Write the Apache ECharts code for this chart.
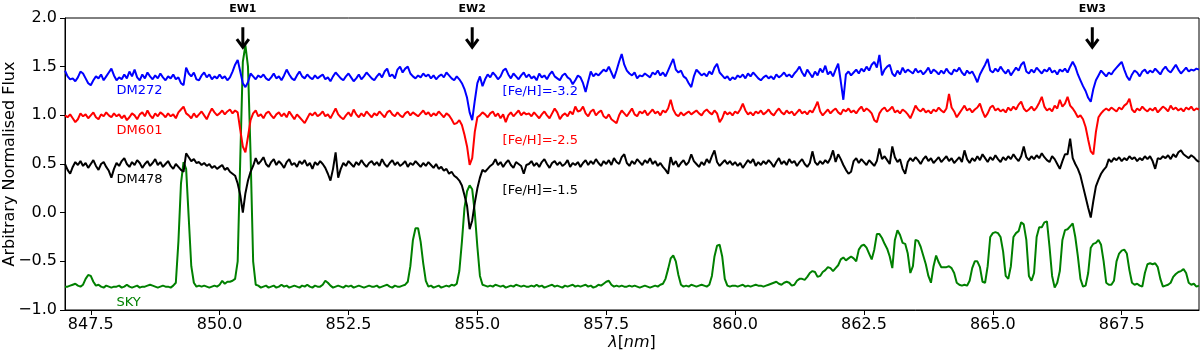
<!DOCTYPE html>
<html>
<head>
<meta charset="utf-8">
<script src="https://cdn.jsdelivr.net/npm/echarts@6/dist/echarts.min.js"></script>
<style>
html,body{margin:0;padding:0;background:#fff;}
#c{width:1200px;height:352px;}
</style>
</head>
<body>
<div id="c"></div>
<script>
// Wavelength sampling grid (nm)
const lambdaStart = 847.00;
const lambdaStep = 0.05;

// X tick labels
const xTicks = [847.5, 850.0, 852.5, 855.0, 857.5, 860.0, 862.5, 865.0, 867.5];

// DM272 (blue)
const dm272 = [
1.46,1.40,1.37,1.38,1.35,1.39,1.45,1.43,1.38,1.33,1.31,1.36,1.40,1.38,1.42,1.36,1.40,1.44,1.48,1.41,
1.36,1.39,1.37,1.42,1.38,1.45,1.40,1.47,1.39,1.36,1.42,1.38,1.44,1.40,1.37,1.41,1.38,1.43,1.39,1.36,
1.40,1.38,1.42,1.37,1.39,1.33,1.31,1.49,1.43,1.40,1.44,1.37,1.36,1.41,1.44,1.39,1.42,1.37,1.40,1.38,
1.42,1.38,1.40,1.36,1.39,1.45,1.52,1.57,1.45,1.33,1.29,1.34,1.43,1.40,1.37,1.41,1.39,1.42,1.38,1.36,
1.39,1.43,1.38,1.40,1.36,1.41,1.47,1.42,1.38,1.36,1.41,1.45,1.40,1.38,1.42,1.39,1.37,1.41,1.38,1.40,
1.42,1.37,1.39,1.35,1.40,1.44,1.41,1.38,1.36,1.40,1.43,1.39,1.35,1.38,1.42,1.37,1.40,1.44,1.41,1.38,
1.36,1.40,1.43,1.39,1.45,1.48,1.40,1.42,1.38,1.47,1.50,1.44,1.48,1.50,1.43,1.40,1.38,1.41,1.39,1.43,
1.40,1.42,1.38,1.41,1.37,1.40,1.42,1.39,1.44,1.41,1.38,1.36,1.40,1.37,1.33,1.27,1.18,1.03,0.95,1.15,
1.33,1.40,1.30,1.37,1.42,1.39,1.44,1.41,1.37,1.40,1.46,1.48,1.42,1.38,1.43,1.40,1.37,1.41,1.44,1.39,
1.42,1.38,1.40,1.36,1.43,1.39,1.41,1.37,1.42,1.45,1.40,1.38,1.36,1.41,1.43,1.39,1.37,1.32,1.36,1.41,
1.39,1.33,1.24,1.35,1.45,1.40,1.43,1.41,1.44,1.47,1.45,1.50,1.44,1.38,1.46,1.55,1.63,1.52,1.46,1.43,
1.41,1.44,1.38,1.41,1.40,1.43,1.41,1.39,1.44,1.42,1.46,1.41,1.44,1.40,1.46,1.52,1.58,1.47,1.44,1.46,
1.40,1.38,1.33,1.29,1.40,1.47,1.44,1.41,1.43,1.40,1.45,1.42,1.49,1.53,1.44,1.41,1.38,1.40,1.36,1.39,
1.37,1.41,1.39,1.42,1.38,1.43,1.40,1.44,1.41,1.38,1.36,1.39,1.41,1.38,1.40,1.37,1.42,1.39,1.41,1.44,
1.40,1.42,1.39,1.43,1.46,1.50,1.44,1.40,1.47,1.43,1.39,1.45,1.41,1.48,1.44,1.51,1.42,1.45,1.40,1.47,
1.53,1.35,1.16,1.42,1.45,1.41,1.44,1.47,1.43,1.48,1.45,1.50,1.46,1.52,1.55,1.49,1.62,1.41,1.47,1.50,
1.52,1.43,1.40,1.46,1.42,1.49,1.44,1.47,1.45,1.43,1.48,1.44,1.46,1.42,1.45,1.49,1.43,1.47,1.45,1.42,
1.46,1.43,1.48,1.44,1.42,1.47,1.45,1.49,1.44,1.41,1.46,1.43,1.45,1.40,1.34,1.42,1.47,1.52,1.58,1.46,
1.44,1.48,1.45,1.50,1.46,1.43,1.47,1.41,1.45,1.49,1.46,1.52,1.55,1.45,1.43,1.47,1.44,1.49,1.46,1.43,
1.47,1.45,1.49,1.44,1.46,1.42,1.47,1.45,1.48,1.44,1.50,1.55,1.50,1.42,1.36,1.30,1.25,1.18,1.14,1.27,
1.36,1.41,1.46,1.43,1.40,1.44,1.42,1.46,1.49,1.52,1.55,1.47,1.40,1.36,1.42,1.46,1.44,1.40,1.45,1.47,
1.43,1.46,1.44,1.48,1.45,1.42,1.47,1.50,1.46,1.44,1.48,1.52,1.47,1.43,1.46,1.49,1.45,1.47,1.46,1.48,
1.47];

// DM601 (red)
const dm601 = [
1.00,0.98,1.01,0.97,0.93,0.96,1.02,0.99,1.01,0.97,1.00,1.03,0.98,0.96,1.01,0.99,1.03,1.00,0.98,1.02,
0.99,1.01,0.97,1.00,0.95,0.98,1.02,1.00,0.96,1.01,1.03,0.99,1.05,1.00,0.97,1.02,0.99,1.03,1.01,0.98,
1.02,0.99,1.01,0.97,1.03,1.06,1.09,1.02,1.00,0.97,1.02,0.98,1.01,1.04,1.00,0.96,1.02,1.07,1.03,1.00,
1.02,1.05,1.01,1.04,1.06,1.02,1.05,1.03,0.85,0.68,0.62,0.78,0.95,1.02,1.05,0.99,1.01,0.97,1.02,1.04,
1.00,0.97,1.01,1.03,0.99,1.02,0.98,1.04,1.00,0.96,1.01,0.98,0.95,0.92,0.97,1.02,1.00,1.03,0.99,1.01,
1.04,0.99,1.01,0.97,1.02,1.07,1.01,0.98,0.96,1.00,1.03,0.99,1.06,1.01,0.98,1.02,0.99,1.04,1.01,0.98,
1.02,1.00,1.04,1.01,0.98,1.03,1.05,1.01,0.99,1.03,1.00,0.98,1.02,1.04,1.00,1.03,1.01,0.99,1.02,1.05,
1.01,1.03,0.99,1.02,1.00,1.04,1.01,0.98,1.02,1.00,0.96,0.91,0.92,0.95,0.90,0.80,0.68,0.49,0.56,0.83,
0.98,1.00,1.03,1.01,0.98,1.02,1.04,0.99,1.02,0.97,1.01,0.93,1.00,1.03,0.99,1.02,1.05,1.00,1.03,1.01,
1.02,0.99,1.03,1.00,0.97,1.01,1.04,1.00,0.97,1.02,1.07,1.03,0.96,1.00,1.02,0.99,1.04,1.01,1.09,1.04,
1.05,1.09,1.02,0.99,1.04,1.06,1.00,1.03,1.05,0.99,0.97,1.01,0.96,0.94,0.92,1.00,1.05,1.02,0.99,1.03,
1.07,1.01,0.99,1.04,1.02,1.05,1.00,1.03,1.06,1.02,1.04,1.00,1.05,1.03,1.07,1.16,1.06,1.01,0.99,1.03,
1.00,1.02,1.04,1.01,1.03,1.05,1.02,1.00,1.04,1.06,1.03,1.01,1.05,1.02,0.93,0.97,1.04,1.01,1.03,1.00,
1.04,1.02,1.06,1.12,1.05,1.01,1.03,1.00,1.04,1.02,1.05,1.01,1.03,1.06,1.02,1.00,1.04,1.07,1.03,1.01,
1.05,1.02,1.04,1.00,1.03,1.06,1.02,1.04,1.01,1.05,1.03,1.08,1.14,1.04,1.00,1.03,1.06,1.02,1.05,1.07,
1.03,1.01,1.06,1.04,1.07,1.03,1.05,1.02,1.06,1.09,1.04,1.07,1.05,1.02,0.95,0.93,1.02,1.06,1.08,1.04,
1.06,1.09,1.03,1.05,1.02,1.06,1.04,1.01,0.97,1.03,1.10,1.06,1.04,1.07,1.03,1.05,1.02,1.06,1.04,1.08,
1.05,1.03,1.07,1.22,1.08,1.04,0.98,1.02,1.06,1.10,1.05,1.07,1.03,1.06,1.08,1.12,1.04,0.98,1.02,1.08,
1.10,1.05,1.07,1.04,1.06,1.03,1.08,1.05,1.09,1.06,1.11,1.14,1.07,1.04,1.06,1.09,1.05,1.08,1.13,1.19,
1.09,1.05,1.07,1.04,1.10,1.07,1.16,1.09,1.12,1.19,1.10,1.07,1.03,0.98,1.00,0.96,0.88,0.75,0.63,0.60,
0.83,0.98,1.02,1.05,1.07,1.05,1.08,1.06,1.04,1.08,1.06,1.10,1.12,1.17,1.06,1.03,1.07,1.05,1.09,1.06,
1.04,1.07,1.05,1.08,1.03,1.06,1.09,1.07,1.04,1.10,1.06,1.08,1.05,1.07,1.04,1.08,1.06,1.09,1.05,1.07,
1.06];

// DM478 (black)
const dm478 = [
0.50,0.44,0.40,0.47,0.52,0.49,0.53,0.48,0.51,0.46,0.50,0.54,0.48,0.44,0.50,0.52,0.47,0.43,0.36,0.45,
0.51,0.48,0.53,0.56,0.50,0.47,0.52,0.49,0.54,0.51,0.46,0.50,0.53,0.48,0.51,0.55,0.49,0.52,0.47,0.50,
0.53,0.48,0.45,0.50,0.47,0.44,0.42,0.61,0.57,0.53,0.55,0.51,0.52,0.49,0.51,0.48,0.50,0.46,0.48,0.45,
0.47,0.49,0.44,0.46,0.42,0.40,0.38,0.30,0.18,0.00,0.20,0.33,0.42,0.48,0.56,0.50,0.53,0.57,0.50,0.47,
0.52,0.55,0.49,0.53,0.50,0.46,0.52,0.55,0.49,0.51,0.47,0.53,0.50,0.54,0.48,0.51,0.45,0.52,0.49,0.53,
0.50,0.46,0.40,0.33,0.45,0.62,0.36,0.45,0.51,0.48,0.53,0.50,0.47,0.52,0.49,0.54,0.50,0.47,0.51,0.53,
0.49,0.52,0.48,0.55,0.50,0.47,0.51,0.54,0.49,0.52,0.48,0.50,0.53,0.47,0.51,0.49,0.53,0.50,0.47,0.51,
0.48,0.52,0.49,0.46,0.50,0.45,0.47,0.43,0.45,0.40,0.42,0.38,0.36,0.33,0.28,0.18,0.07,-0.17,-0.08,0.10,
0.25,0.36,0.44,0.42,0.45,0.48,0.50,0.55,0.49,0.52,0.47,0.51,0.54,0.49,0.46,0.52,0.50,0.48,0.40,0.49,
0.50,0.53,0.48,0.51,0.47,0.52,0.55,0.50,0.46,0.51,0.53,0.49,0.52,0.48,0.50,0.54,0.47,0.51,0.49,0.52,
0.47,0.51,0.54,0.49,0.53,0.50,0.55,0.51,0.48,0.53,0.50,0.54,0.49,0.56,0.52,0.50,0.57,0.60,0.51,0.48,
0.53,0.50,0.55,0.52,0.49,0.54,0.51,0.56,0.50,0.53,0.48,0.51,0.47,0.44,0.40,0.57,0.49,0.53,0.47,0.51,
0.54,0.49,0.52,0.60,0.53,0.50,0.47,0.52,0.49,0.55,0.51,0.58,0.64,0.52,0.48,0.51,0.54,0.50,0.53,0.49,
0.52,0.48,0.51,0.46,0.50,0.54,0.51,0.55,0.48,0.52,0.49,0.53,0.50,0.54,0.51,0.47,0.52,0.56,0.50,0.53,
0.49,0.55,0.51,0.53,0.48,0.52,0.55,0.50,0.47,0.51,0.63,0.52,0.49,0.53,0.50,0.54,0.51,0.56,0.64,0.52,
0.60,0.55,0.49,0.44,0.40,0.42,0.53,0.56,0.51,0.55,0.52,0.49,0.54,0.51,0.48,0.53,0.66,0.55,0.58,0.54,
0.50,0.68,0.57,0.52,0.55,0.45,0.40,0.52,0.56,0.53,0.57,0.54,0.50,0.55,0.58,0.53,0.56,0.51,0.54,0.57,
0.52,0.55,0.58,0.53,0.56,0.51,0.54,0.57,0.52,0.64,0.55,0.51,0.56,0.53,0.58,0.54,0.60,0.56,0.52,0.57,
0.54,0.59,0.55,0.52,0.57,0.54,0.58,0.55,0.60,0.56,0.53,0.58,0.68,0.57,0.54,0.58,0.55,0.59,0.56,0.61,
0.57,0.54,0.52,0.58,0.55,0.50,0.45,0.53,0.60,0.60,0.76,0.56,0.50,0.45,0.38,0.27,0.16,0.05,-0.05,0.12,
0.27,0.34,0.40,0.44,0.47,0.55,0.52,0.56,0.54,0.57,0.53,0.56,0.54,0.58,0.55,0.57,0.53,0.56,0.54,0.58,
0.55,0.58,0.53,0.45,0.56,0.55,0.58,0.56,0.59,0.55,0.60,0.57,0.62,0.64,0.60,0.58,0.56,0.59,0.57,0.54,
0.52];

// SKY (green)
const sky = [
-0.76,-0.76,-0.75,-0.74,-0.73,-0.75,-0.76,-0.74,-0.68,-0.64,-0.65,-0.71,-0.75,-0.74,-0.76,-0.77,-0.75,-0.76,-0.77,-0.76,
-0.76,-0.75,-0.77,-0.76,-0.74,-0.76,-0.77,-0.76,-0.75,-0.77,-0.76,-0.76,-0.75,-0.74,-0.75,-0.76,-0.77,-0.76,-0.75,-0.76,
-0.76,-0.77,-0.75,-0.72,-0.30,0.30,0.52,0.45,-0.05,-0.55,-0.72,-0.76,-0.75,-0.76,-0.75,-0.76,-0.77,-0.76,-0.75,-0.76,
-0.74,-0.70,-0.73,-0.71,-0.71,-0.70,-0.68,-0.50,0.55,1.55,1.72,1.50,0.60,-0.50,-0.74,-0.75,-0.77,-0.76,-0.75,-0.77,
-0.76,-0.75,-0.77,-0.76,-0.74,-0.76,-0.75,-0.77,-0.76,-0.75,-0.76,-0.77,-0.75,-0.76,-0.74,-0.76,-0.77,-0.75,-0.76,-0.76,
-0.74,-0.70,-0.72,-0.75,-0.77,-0.76,-0.75,-0.76,-0.77,-0.75,-0.76,-0.75,-0.77,-0.76,-0.75,-0.76,-0.77,-0.76,-0.75,-0.76,
-0.76,-0.75,-0.77,-0.76,-0.75,-0.74,-0.76,-0.77,-0.75,-0.76,-0.76,-0.75,-0.74,-0.71,-0.55,-0.28,-0.16,-0.16,-0.30,-0.52,
-0.70,-0.76,-0.75,-0.77,-0.76,-0.75,-0.77,-0.76,-0.75,-0.76,-0.74,-0.75,-0.73,-0.60,-0.30,0.05,0.22,0.28,0.24,0.00,
-0.35,-0.65,-0.74,-0.75,-0.76,-0.75,-0.76,-0.74,-0.75,-0.76,-0.75,-0.77,-0.76,-0.75,-0.76,-0.74,-0.75,-0.76,-0.75,-0.76,
-0.76,-0.75,-0.76,-0.74,-0.76,-0.75,-0.77,-0.76,-0.75,-0.74,-0.76,-0.75,-0.76,-0.77,-0.75,-0.76,-0.75,-0.74,-0.76,-0.75,
-0.76,-0.75,-0.74,-0.76,-0.75,-0.77,-0.76,-0.74,-0.75,-0.73,-0.71,-0.70,-0.74,-0.76,-0.75,-0.76,-0.75,-0.76,-0.76,-0.75,
-0.76,-0.75,-0.76,-0.77,-0.76,-0.75,-0.76,-0.77,-0.76,-0.75,-0.76,-0.74,-0.73,-0.68,-0.58,-0.47,-0.44,-0.50,-0.64,-0.74,
-0.76,-0.75,-0.76,-0.74,-0.75,-0.76,-0.75,-0.74,-0.75,-0.76,-0.74,-0.65,-0.45,-0.34,-0.33,-0.45,-0.68,-0.75,-0.76,-0.75,
-0.75,-0.76,-0.75,-0.74,-0.76,-0.75,-0.76,-0.75,-0.74,-0.75,-0.75,-0.76,-0.75,-0.74,-0.73,-0.72,-0.71,-0.73,-0.74,-0.72,
-0.71,-0.72,-0.75,-0.74,-0.70,-0.68,-0.68,-0.69,-0.66,-0.62,-0.60,-0.61,-0.66,-0.65,-0.61,-0.59,-0.56,-0.57,-0.60,-0.57,
-0.54,-0.48,-0.46,-0.49,-0.47,-0.45,-0.47,-0.50,-0.38,-0.34,-0.33,-0.36,-0.42,-0.48,-0.38,-0.22,-0.22,-0.26,-0.32,-0.37,
-0.45,-0.57,-0.28,-0.18,-0.23,-0.31,-0.32,-0.42,-0.62,-0.55,-0.28,-0.29,-0.35,-0.44,-0.53,-0.65,-0.72,-0.55,-0.44,-0.51,
-0.56,-0.56,-0.56,-0.55,-0.57,-0.62,-0.72,-0.74,-0.75,-0.74,-0.75,-0.70,-0.57,-0.50,-0.50,-0.56,-0.71,-0.72,-0.55,-0.25,
-0.21,-0.20,-0.21,-0.25,-0.40,-0.65,-0.68,-0.55,-0.25,-0.21,-0.19,-0.10,-0.12,-0.28,-0.65,-0.70,-0.62,-0.25,-0.15,-0.15,
-0.10,-0.09,-0.35,-0.65,-0.77,-0.72,-0.60,-0.28,-0.18,-0.17,-0.14,-0.11,-0.25,-0.45,-0.68,-0.76,-0.75,-0.62,-0.36,-0.32,
-0.31,-0.28,-0.33,-0.50,-0.72,-0.74,-0.74,-0.70,-0.50,-0.42,-0.39,-0.38,-0.42,-0.59,-0.72,-0.74,-0.73,-0.75,-0.76,-0.62,
-0.53,-0.52,-0.53,-0.52,-0.56,-0.68,-0.76,-0.75,-0.74,-0.72,-0.66,-0.63,-0.61,-0.60,-0.58,-0.62,-0.72,-0.74,-0.73,-0.76,
-0.75];

// Text annotations (data coordinates)
const labelTexts = ['DM272', 'DM601', 'DM478', 'SKY', '[Fe/H]=-3.2', '[Fe/H]=-2.5', '[Fe/H]=-1.5'];
const labelAt = [[848.0, 1.25], [848.0, 0.84], [848.0, 0.34], [848.0, -0.92], [855.49, 1.24], [855.49, 0.745], [855.49, 0.23]];
const labelColors = ['#0000ff', '#ff0000', '#000000', '#008000', '#0000ff', '#ff0000', '#000000'];

// Equivalent-width markers
const ewNames = ['EW1', 'EW2', 'EW3'];
const ewLambda = [850.45, 854.90, 866.93];
const ewTextY = 2.09, ewArrowTop = 1.905, ewArrowTip = 1.70;

function pairs(vals) {
  return vals.map((v, i) => [+(lambdaStart + i * lambdaStep).toFixed(2), v]);
}

const FONT = 'DejaVu Sans';
const chart = echarts.init(document.getElementById('c'), null, {renderer: 'canvas'});

function lineSeries(name, vals, color, z) {
  return {
    name: name, type: 'line', data: pairs(vals), showSymbol: false, symbol: 'none',
    lineStyle: {color: color, width: 2}, itemStyle: {color: color}, z: z, silent: true,
    clip: true
  };
}

const option = {
  animation: false,
  backgroundColor: '#fff',
  grid: {left: 65, right: 1, top: 18, bottom: 42, outerBoundsMode: 'none', containLabel: false,
         show: true, borderColor: '#000', borderWidth: 1, backgroundColor: 'transparent'},
  xAxis: {
    type: 'value', min: 847, max: 869,
    name: '{i|λ}{n|[}{i|nm}{n|]}', nameLocation: 'middle', nameGap: 25, nameMoveOverlap: false,
    nameTextStyle: {rich: {i: {fontFamily: FONT, fontStyle: 'italic', fontSize: 16, color: '#000'}, n: {fontFamily: FONT, fontSize: 16, color: '#000'}}},
    axisLine: {show: true, onZero: false, lineStyle: {color: '#000', width: 1}},
    axisTick: {show: true, customValues: xTicks, length: 5, lineStyle: {color: '#000', width: 1}},
    axisLabel: {customValues: xTicks, formatter: v => v.toFixed(1), fontFamily: FONT, fontSize: 16, color: '#000', margin: 7},
    splitLine: {show: false}
  },
  yAxis: {
    type: 'value', min: -1, max: 2, interval: 0.5,
    name: 'Arbitrary Normalised Flux', nameLocation: 'middle', nameGap: 47, nameMoveOverlap: false,
    nameTextStyle: {fontFamily: FONT, fontSize: 16, color: '#000'},
    axisLine: {show: true, onZero: false, lineStyle: {color: '#000', width: 1}},
    axisTick: {show: true, length: 5, lineStyle: {color: '#000', width: 1}},
    axisLabel: {formatter: v => (v < 0 ? '\u2212' + Math.abs(v).toFixed(1) : v.toFixed(1)), fontFamily: FONT, fontSize: 16, color: '#000', margin: 8},
    splitLine: {show: false}
  },
  series: [
    lineSeries('SKY', sky, '#008000', 2),
    lineSeries('DM478', dm478, '#000000', 3),
    lineSeries('DM601', dm601, '#ff0000', 4),
    lineSeries('DM272', dm272, '#0000ff', 5)
  ]
};
chart.setOption(option);

// Annotations placed through the chart's own coordinate conversion
const elements = [];
labelTexts.forEach((t, k) => {
  const p = chart.convertToPixel({gridIndex: 0}, labelAt[k]);
  elements.push({type: 'text', x: p[0], y: p[1], z: 20, silent: true,
    style: {text: t, fill: labelColors[k], font: '13px "DejaVu Sans"', textAlign: 'left', textVerticalAlign: 'middle'}});
});
ewNames.forEach((t, k) => {
  const pt = chart.convertToPixel({gridIndex: 0}, [ewLambda[k], ewTextY]);
  const pa = chart.convertToPixel({gridIndex: 0}, [ewLambda[k], ewArrowTop]);
  const pb = chart.convertToPixel({gridIndex: 0}, [ewLambda[k], ewArrowTip]);
  elements.push({type: 'text', x: pt[0], y: pt[1], z: 20, silent: true,
    style: {text: t, fill: '#000', font: 'bold 11px "DejaVu Sans"', textAlign: 'center', textVerticalAlign: 'middle'}});
  elements.push({type: 'line', z: 20, silent: true,
    shape: {x1: pa[0], y1: pa[1], x2: pb[0], y2: pb[1] - 1},
    style: {stroke: '#000', lineWidth: 3}});
  elements.push({type: 'polyline', z: 20, silent: true,
    shape: {points: [[pb[0] - 6, pb[1] - 8], [pb[0], pb[1]], [pb[0] + 6, pb[1] - 8]]},
    style: {stroke: '#000', lineWidth: 3, fill: 'none', lineJoin: 'miter'}});
});
chart.setOption({graphic: {elements: elements}});
</script>
</body>
</html>
